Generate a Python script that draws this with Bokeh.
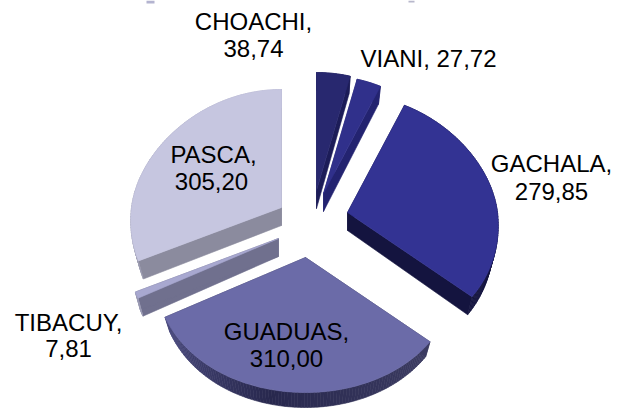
import math
from bokeh.plotting import figure
from bokeh.models import Range1d, ColumnDataSource
from bokeh.core.properties import value
from bokeh.embed import file_html
from bokeh.resources import INLINE

# Data
names = ["CHOACHI", "VIANI", "GACHALA", "GUADUAS", "TIBACUY", "PASCA"]
values = [38.74, 27.72, 279.85, 310.00, 7.81, 305.20]

# Layout: image pixel position of each exploded slice's apex
apex_x = [316, 323, 347, 305, 278, 281]
apex_y = [190, 193, 212, 257, 238, 207]
depth = [18, 18, 18, 15, 18, 18]

# Style
top_colors = ["#28286f", "#30308b", "#333393", "#6b6ba8", "#a8a8d0", "#c6c6e0"]
edge_colors = ["#1c1c58", "#232370", "#14143f", "#3a3a60", "#70708e", "#8b8b9e"]
arc_colors = [
    ("#1c1c58", "#1c1c58", "#1c1c58"),
    ("#232370", "#232370", "#232370"),
    ("#14143f", "#14143f", "#14143f"),
    ("#3c3c62", "#28284e", "#4c4c80"),
    ("#9a9ab4", "#9a9ab4", "#9a9ab4"),
    ("#9c9cb0", "#a4a4bc", "#b4b4cc"),
]
draw_order = [5, 0, 1, 2, 4, 3]

# Label lines: (slice, template, centre x, vertical centre y)
label_lines = [
    (0, "{n},", 253, 21), (0, "{v}", 253, 48),
    (1, "{n}, {v}", 428, 58),
    (2, "{n},", 551, 163), (2, "{v}", 551, 191),
    (3, "{n},", 286, 331), (3, "{v}", 286, 358),
    (4, "{n},", 68, 322), (4, "{v}", 68, 348),
    (5, "{n},", 213, 154), (5, "{v}", 211, 181),
]

# Specks left at the top edge of the picture (cropped-off title)
speck_left = [146, 408]
speck_right = [154, 414]
speck_bottom = [3, 2]
speck_colors = ["#b4b4d0", "#b8b8cc"]

W, H = 617, 412
p = figure(width=W, height=H, x_range=Range1d(0, W), y_range=Range1d(H, 0),
           toolbar_location=None, output_backend="svg", min_border=0,
           background_fill_color="white", border_fill_color="white")
p.xaxis.visible = False
p.yaxis.visible = False
p.grid.visible = False
p.outline_line_color = None


def project(theta):
    """Pie angle (clockwise from the top) to an offset in the tilted view."""
    c = -math.cos(theta)
    rx = 150 + 15 * c
    ry = 118 if c < 0 else 135
    return rx * math.sin(theta), ry * c


def drop(ax, ay, x, y, d):
    return ax + (x - ax) * 0.965, y + d


def mix(a, b, t):
    ca = [int(a[i:i + 2], 16) for i in (1, 3, 5)]
    cb = [int(b[i:i + 2], 16) for i in (1, 3, 5)]
    return "#%02x%02x%02x" % tuple(round(u + (v - u) * t) for u, v in zip(ca, cb))


total = sum(values)
starts, acc = [], 0.0
for v in values:
    starts.append(acc)
    acc += v

xs, ys, fills = [], [], []


def add(px, py, col):
    xs.append(px)
    ys.append(py)
    fills.append(col)


for i in draw_order:
    t0 = starts[i] / total * 2 * math.pi
    t1 = (starts[i] + values[i]) / total * 2 * math.pi
    ax, ay, d = apex_x[i], apex_y[i], depth[i]
    n = max(6, int((t1 - t0) / 0.02))
    arc = []
    for k in range(n + 1):
        ox, oy = project(t0 + (t1 - t0) * k / n)
        arc.append((ax + ox, ay + oy))
    # straight cut walls
    for e in (arc[0], arc[-1]):
        bx, by = drop(ax, ay, e[0], e[1], d)
        add([ax, e[0], bx, ax], [ay, e[1], by, ay + d], edge_colors[i])
    # curved wall, in thin shaded strips
    a, b, c3 = arc_colors[i]
    for k in range(n):
        f = k / n
        col = mix(a, b, f / 0.55) if f < 0.55 else mix(b, c3, (f - 0.55) / 0.45)
        q0, q1 = arc[k], arc[k + 1]
        b0 = drop(ax, ay, q0[0], q0[1], d)
        b1 = drop(ax, ay, q1[0], q1[1], d)
        add([q0[0], q1[0], b1[0], b0[0]], [q0[1], q1[1], b1[1], b0[1]], col)
    # top face
    add([ax] + [q[0] for q in arc], [ay] + [q[1] for q in arc], top_colors[i])

src = ColumnDataSource(dict(xs=xs, ys=ys, fill=fills))
p.patches("xs", "ys", source=src, fill_color="fill", line_color="fill", line_width=0.6)

p.quad(left=speck_left, right=speck_right, top=[0, 0], bottom=speck_bottom,
       fill_color=speck_colors, line_color=None)

tx, ty, tt = [], [], []
for i, tpl, x, y in label_lines:
    tx.append(x)
    ty.append(y)
    tt.append(tpl.format(n=names[i], v=f"{values[i]:.2f}".replace(".", ",")))
p.text(tx, ty, text=tt, text_align="center", text_baseline="middle",
       text_color="#000000", text_font=value("Liberation Sans"), text_font_size="24px")

open("out.html", "w").write(file_html(p, INLINE))
